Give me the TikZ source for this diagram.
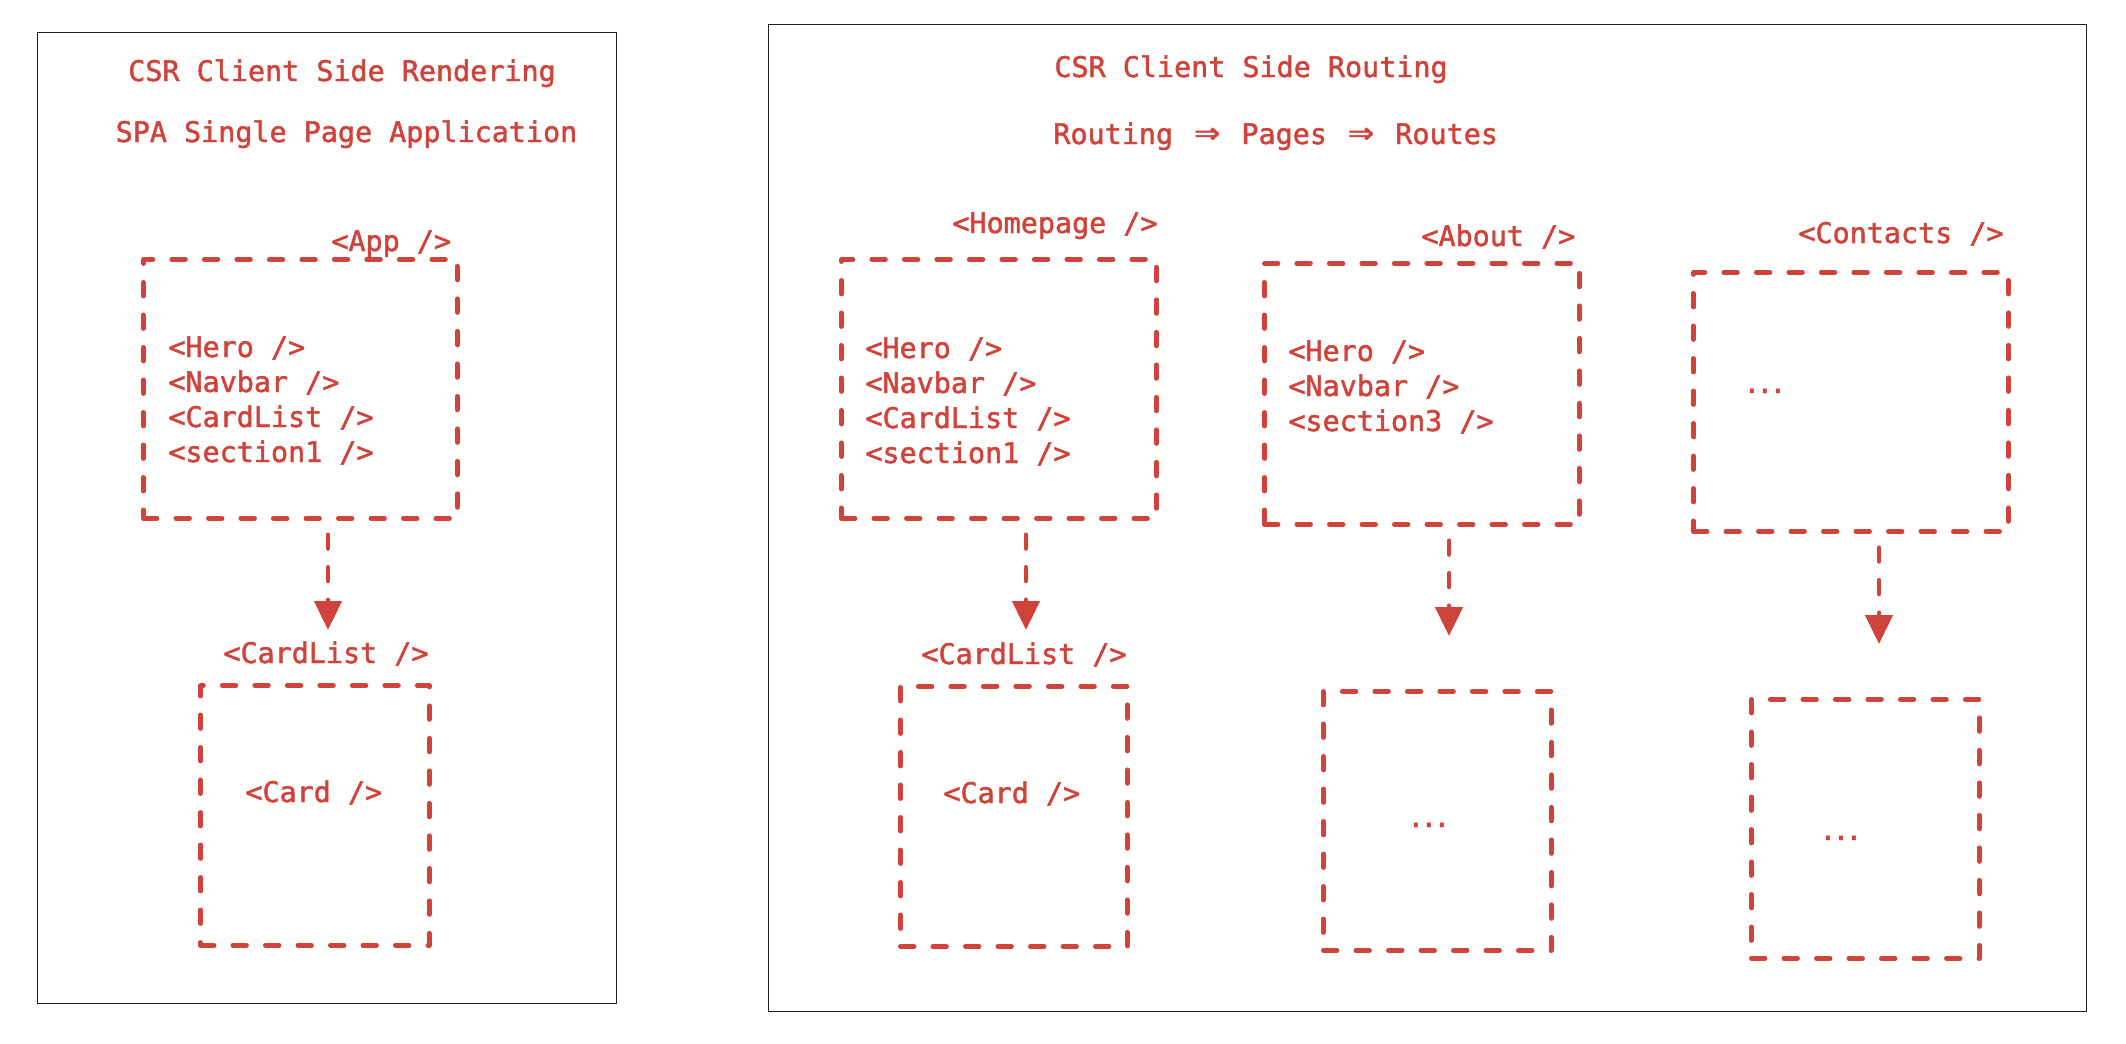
\documentclass[tikz,border=0pt]{standalone}
\usepackage{fontspec}
\newfontfamily\codefont[FakeBold=1.6]{DejaVu Sans Mono}
\usetikzlibrary{arrows.meta}
\definecolor{xred}{RGB}{208,67,59}
\definecolor{xframe}{RGB}{30,30,30}
\newcommand\mydots{.\kern-2.05pt.\kern-2.05pt.}
\newcommand\dbl{\makebox[17.1pt]{\scalebox{1.5}[1.3]{⇒}}}
\begin{document}
\begin{tikzpicture}[x=0.5pt,y=-0.5pt,
 txt/.style={inner sep=0pt,text=xred,font=\codefont\fontsize{14.2pt}{17pt}\selectfont,anchor=base west},
 ttl/.style={txt,anchor=base},
 dbox/.style={draw=xred,line width=2.4pt,dash pattern=on 6.8pt off 9.45pt,line cap=round,line join=round,inner sep=0pt,anchor=north west},
 framebox/.style={draw=xframe,line width=0.7pt,inner sep=0pt,anchor=north west},
 arr/.style={draw=xred,line width=2.4pt,dash pattern=on 6.8pt off 9.45pt,line cap=round,-{Triangle[width=13.5pt,length=14.5pt]},shorten <=7pt}]
\useasboundingbox[fill=white] (0,0) rectangle (2126,1044);

% frames
\node[framebox,minimum width={(616-37)*0.5pt},minimum height={(1003-32)*0.5pt}] (fl) at (37,32) {};
\node[framebox,minimum width={(2086-768)*0.5pt},minimum height={(1011-24)*0.5pt}] (fr) at (768,24) {};

% titles
\node[ttl] (t1) at (342,81) {CSR Client Side Rendering};
\node[ttl] (t2) at (346.5,142) {SPA Single Page Application};
\node[txt] (t3) at (1054,77) {CSR Client Side Routing};
\node[txt] (t4) at (1053,144) {Routing \dbl{} Pages \dbl{} Routes};

% dashed boxes
\node[dbox,minimum width={(455-141)*0.5pt},minimum height={(516-257)*0.5pt}] (app) at (141,257) {};
\node[dbox,minimum width={(427-198)*0.5pt},minimum height={(943-683)*0.5pt}] (cl1) at (198,683) {};
\node[dbox,minimum width={(1154-839)*0.5pt},minimum height={(516-257)*0.5pt}] (home) at (839,257) {};
\node[dbox,minimum width={(1125-898)*0.5pt},minimum height={(944-684)*0.5pt}] (cl2) at (898,684) {};
\node[dbox,minimum width={(1577-1262)*0.5pt},minimum height={(522-261)*0.5pt}] (about) at (1262,261) {};
\node[dbox,minimum width={(1549-1321)*0.5pt},minimum height={(948-689)*0.5pt}] (aboutc) at (1321,689) {};
\node[dbox,minimum width={(2006-1691)*0.5pt},minimum height={(529-270)*0.5pt}] (cont) at (1691,270) {};
\node[dbox,minimum width={(1977-1749)*0.5pt},minimum height={(956-697)*0.5pt}] (contc) at (1749,697) {};

% box labels
\node[txt] (lapp) at (331,251) {<App />};
\node[txt] (lcl1) at (223,663) {<CardList />};
\node[txt] (lhome) at (952,233) {<Homepage />};
\node[txt] (lcl2) at (921,664) {<CardList />};
\node[txt] (labout) at (1421,246) {<About />};
\node[txt] (lcont) at (1798,243) {<Contacts />};

% contents
\node[txt] (a1) at (168,357) {<Hero />};
\node[txt] (a2) at (168,392) {<Navbar />};
\node[txt] (a3) at (168,427) {<CardList />};
\node[txt] (a4) at (168,462) {<section1 />};
\node[txt] (h1) at (865,358) {<Hero />};
\node[txt] (h2) at (865,393) {<Navbar />};
\node[txt] (h3) at (865,428) {<CardList />};
\node[txt] (h4) at (865,463) {<section1 />};
\node[txt] (b1) at (1288,361) {<Hero />};
\node[txt] (b2) at (1288,396) {<Navbar />};
\node[txt] (b3) at (1288,431) {<section3 />};
\node[txt] (c1) at (1743,393) {\mydots};
\node[txt] (k1) at (245,802) {<Card />};
\node[txt] (k2) at (943,803) {<Card />};
\node[txt] (d1) at (1407,827) {\mydots};
\node[txt] (d2) at (1819,840) {\mydots};

% arrows
\coordinate (e1) at (328,630);
\coordinate (e2) at (1026,630);
\coordinate (e3) at (1449,636);
\coordinate (e4) at (1879,644);
\draw[arr] (app.south -| e1) -- (e1);
\draw[arr] (home.south -| e2) -- (e2);
\draw[arr] (about.south -| e3) -- (e3);
\draw[arr] (cont.south -| e4) -- (e4);
\end{tikzpicture}
\end{document}
